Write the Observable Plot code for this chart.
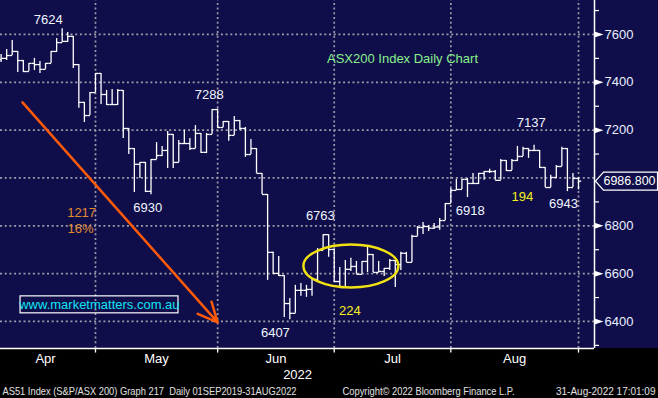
<!DOCTYPE html>
<html><head><meta charset="utf-8">
<script src="https://cdn.jsdelivr.net/npm/d3@7"></script>
<script src="https://cdn.jsdelivr.net/npm/@observablehq/plot@0.6"></script>
<style>
html,body{margin:0;padding:0;background:#000;}
#chart{width:658px;height:398px;overflow:hidden}
</style></head><body><div id="chart"></div>
<script>
// Daily OHLC, S&P/ASX 200, trading days 1 Apr 2022 .. 31 Aug 2022 (index 0..104)
const open = [
7495,7500,7512,7529,7491,7445,7479,7474,7454,7479,
7529,7566,7571,7592,7474,7316,7261,7357,7437,7349,
7307,7307,7366,7207,7123,7057,7065,6944,7077,7094,
7115,7182,7065,7144,7144,7123,7186,7107,7182,7286,
7211,7236,7178,7240,7207,7098,7123,7019,6931,6689,
6601,6592,6475,6434,6530,6530,6534,6576,6697,6763,
6701,6567,6542,6618,6630,6597,6651,6680,6605,6609,
6622,6655,6638,6685,6647,6756,6793,6797,6790,6795,
6822,6893,6948,6952,6994,6977,6977,7019,7027,7027,
6990,7073,7031,7073,7090,7123,7115,7115,7044,6960,
7002,7048,7123,6960,6998];
const high = [
7516,7537,7575,7529,7491,7479,7500,7487,7479,7529,
7583,7624,7608,7592,7474,7316,7357,7437,7437,7366,
7370,7370,7366,7207,7123,7065,7065,7077,7148,7132,
7194,7182,7157,7199,7165,7219,7186,7186,7286,7288,
7236,7236,7257,7240,7211,7161,7123,7019,6931,6689,
6672,6592,6496,6551,6559,6551,6580,6705,6763,6763,
6701,6626,6655,6664,6651,6651,6714,6680,6651,6622,
6659,6655,6689,6689,6760,6797,6814,6801,6810,6831,
6893,6956,6994,6994,6998,7019,7019,7027,7036,7031,
7077,7073,7077,7132,7128,7123,7137,7115,7044,7011,
7052,7128,7123,7019,7002];
const low = [
7483,7491,7512,7441,7441,7445,7449,7437,7454,7479,
7525,7566,7566,7458,7291,7232,7261,7357,7307,7303,
7303,7303,7165,7098,6939,6998,6939,6930,7077,7090,
7040,7040,7065,7140,7115,7123,7102,7102,7182,7207,
7211,7153,7178,7199,7086,7098,7019,6931,6572,6597,
6588,6417,6407,6434,6505,6501,6505,6563,6697,6668,
6563,6538,6538,6609,6597,6597,6605,6605,6605,6588,
6613,6542,6613,6647,6647,6756,6764,6776,6785,6781,
6822,6893,6948,6952,6918,6977,6973,6990,7019,6990,
6990,7027,7031,7069,7090,7082,7111,7040,6960,6960,
6998,7048,6943,6960,6950];
const close = [
7500,7512,7529,7491,7445,7479,7474,7454,7479,7529,
7566,7571,7592,7474,7316,7261,7357,7437,7349,7307,
7307,7366,7207,7123,7057,7065,6944,7077,7094,7115,
7182,7065,7144,7144,7123,7186,7107,7182,7286,7211,
7236,7178,7240,7207,7098,7123,7019,6931,6689,6601,
6592,6475,6434,6530,6530,6534,6576,6697,6763,6701,
6567,6542,6618,6630,6597,6651,6680,6605,6609,6622,
6655,6638,6685,6647,6756,6793,6797,6790,6795,6822,
6893,6948,6952,6994,6977,6977,7019,7027,7027,6990,
7073,7031,7073,7090,7123,7115,7115,7044,6960,7002,
7048,7123,6960,6998,6986.8];

const monthNames = ["Apr","May","Jun","Jul","Aug"];
const monthEndIdx = [17,39,60,81,104];   // last trading day of each month
const yearLabel = "2022";
const gridLevels = [6400,6600,6800,7000,7200,7400,7600];
const axisLabels = [6400,6600,6800,7200,7400,7600];
const minorLevels = [6300,6500,6700,6900,7100,7300,7500,7700];
const lastPrice = 6986.8;

// annotations: trading-day index, index level, text
const noteIdx   = [8.5, 37.5, 95.5, 26.4, 57.5, 49.4, 84.5, 101.3];
const noteLevel = [7663, 7349, 7232, 6877, 6841, 6352, 6864, 6893];
const noteText  = ["7624","7288","7137","6930","6763","6407","6918","6943"];
const moveIdx   = [62.8, 93.9];
const moveLevel = [6446, 6923];
const moveText  = ["224","194"];
const dropIdx   = [14.5, 14.3];
const dropLevel = [6854, 6787];
const dropText  = ["1217","16%"];
const titleText = "ASX200 Index Daily Chart";
const siteText  = "www.marketmatters.com.au";
const footerLeft = "AS51 Index (S&P/ASX 200) Graph 217  Daily 01SEP2019-31AUG2022";
const footerMid  = "Copyright\u00A9 2022 Bloomberg Finance L.P.";
const footerRight = "31-Aug-2022 17:01:09";

const bars = close.map((c, k) => ({i: k, o: open[k], h: high[k], l: low[k], c}));
const xDom = [-0.11, 106.88], yDom = [6287, 7742];
const [xa, xb] = xDom, [ylo, yhi] = yDom;
const NAVY = "#100e4a";
const dotted = {stroke: "#9c9ca8", strokeWidth: 1.7, strokeDasharray: "2,2.7"};
const barStyle = {stroke: "#ffffff", strokeWidth: 1.3};

const tri = {draw(ctx){ ctx.moveTo(0,-3); ctx.lineTo(9,0); ctx.lineTo(0,3); ctx.closePath(); }};
const tag = {draw(ctx){ ctx.moveTo(1,0); ctx.lineTo(9,-9); ctx.lineTo(63,-9); ctx.lineTo(63,9); ctx.lineTo(9,9); ctx.closePath(); }};
const ell = {draw(ctx){
  const rx = 47.5, ry = 21.5, k = 0.5523;
  ctx.moveTo(-rx,0);
  ctx.bezierCurveTo(-rx,-ry*k,-rx*k,-ry,0,-ry);
  ctx.bezierCurveTo(rx*k,-ry,rx,-ry*k,rx,0);
  ctx.bezierCurveTo(rx,ry*k,rx*k,ry,0,ry);
  ctx.bezierCurveTo(-rx*k,ry,-rx,ry*k,-rx,0);
  ctx.closePath();
}};

const monthStarts = [-1, ...monthEndIdx.slice(0, -1)];
const months = monthNames.map((m, k) => ({m, x: (monthStarts[k] + monthEndIdx[k]) / 2}));

const chart = Plot.plot({
  width: 658, height: 398,
  marginLeft: 0, marginRight: 64, marginTop: 0, marginBottom: 50,
  x: {domain: xDom, axis: null},
  y: {domain: yDom, axis: null},
  style: {background: `linear-gradient(${NAVY} 0 348px, #000 348px)`, fontFamily: "'Liberation Sans', Arial, sans-serif", overflow: "hidden"},
  marks: [
    Plot.ruleY(gridLevels, {y: d => d, x1: xa, x2: xb, ...dotted}),
    Plot.ruleX(monthEndIdx, {x: d => d, y1: ylo, y2: yhi, ...dotted}),
    // OHLC bars
    Plot.ruleX(bars, {x: "i", y1: "l", y2: "h", ...barStyle}),
    Plot.link(bars, {x1: d => d.i - 0.5, x2: "i", y1: "o", y2: "o", ...barStyle}),
    Plot.link(bars, {x1: "i", x2: d => d.i + 0.5, y1: "c", y2: "c", ...barStyle}),
    // axes
    Plot.ruleY([ylo], {y: d => d, x1: xa, x2: xb, stroke: "#fff", strokeWidth: 1.5}),
    Plot.ruleX([xb], {x: d => d, y1: ylo, y2: yhi, stroke: "#fff", strokeWidth: 1.5}),
    Plot.link(monthEndIdx, {x1: d => d, x2: d => d, y1: ylo, y2: ylo - 17, stroke: "#fff", strokeWidth: 1.3}),
    Plot.ruleY(minorLevels, {y: d => d, x1: xb, x2: xb + 0.9, stroke: "#fff", strokeWidth: 1.2}),
    Plot.dot(axisLabels, {x: () => xb, y: d => d, symbol: tri, r: 3, fill: "#fff", stroke: "none"}),
    Plot.text(axisLabels, {x: () => xb, y: d => d, text: d => String(d), dx: 10, textAnchor: "start", fill: "#e8f0ff", fontSize: 13}),
    Plot.dot([lastPrice], {x: () => xb, y: d => d, symbol: tag, r: 3, fill: NAVY, stroke: "#fff", strokeWidth: 1.2}),
    Plot.text([lastPrice], {x: () => xb, y: d => d, text: d => d.toFixed(3), dx: 9, textAnchor: "start", fill: "#ffffff", fontSize: 12.5, className: "tg"}),
    Plot.text(months, {x: "x", y: () => ylo, text: "m", dy: 10.5, fill: "#ffffff", fontSize: 13}),
    Plot.text([yearLabel], {x: () => 53.4, y: () => ylo, text: d => d, dy: 26, fill: "#ffffff", fontSize: 13}),
    // annotations
    Plot.arrow([0], {x1: 3.85, y1: 7316, x2: 39, y2: 6396, stroke: "#ff5a0a", strokeWidth: 2.5, headLength: 13, headAngle: 50}),
    Plot.dot([0], {x: () => 63.0, y: () => 6632, symbol: ell, r: 3, fill: "none", stroke: "#f2e212", strokeWidth: 2.4}),
    Plot.text(noteText, {x: (d, k) => noteIdx[k], y: (d, k) => noteLevel[k], text: d => d, fill: "#eef4ff", fontSize: 13}),
    Plot.text(moveText, {x: (d, k) => moveIdx[k], y: (d, k) => moveLevel[k], text: d => d, fill: "#f4f01e", fontSize: 13}),
    Plot.text(dropText, {x: (d, k) => dropIdx[k], y: (d, k) => dropLevel[k], text: d => d, fill: "#e08c2e", fontSize: 13}),
    Plot.text([titleText], {x: () => 72.3, y: () => 7500, text: d => d, fill: "#88f08a", fontSize: 13}),
    Plot.rect([siteText], {x1: () => 3.5, x2: () => 31.95, y1: () => 6434, y2: () => 6505, fill: "none", stroke: "#ffffff", strokeWidth: 1.2}),
    Plot.text([siteText], {x: () => 17.7, y: () => 6469, text: d => d, fill: "#10e4f4", fontSize: 13}),
    // footer
    Plot.text([footerLeft], {x: () => xa, y: () => ylo, text: d => d, dx: 2, dy: 43, textAnchor: "start", fill: "#e0e0e0", fontSize: 10.5, className: "fl"}),
    Plot.text([footerMid], {x: () => 61.49, y: () => ylo, text: d => d, dy: 43, textAnchor: "start", fill: "#e0e0e0", fontSize: 10.5, className: "fm"}),
    Plot.text([footerRight], {x: () => xb, y: () => ylo, text: d => d, dx: 61, dy: 43, textAnchor: "end", fill: "#e0e0e0", fontSize: 10})
  ]
});
document.getElementById("chart").append(chart);
const fit = (cls, w) => d3.select(chart).selectAll(`g.${cls} text`).attr("textLength", w).attr("lengthAdjust", "spacingAndGlyphs");
fit("fl", 294); fit("fm", 172); fit("tg", 52);
</script></body></html>
